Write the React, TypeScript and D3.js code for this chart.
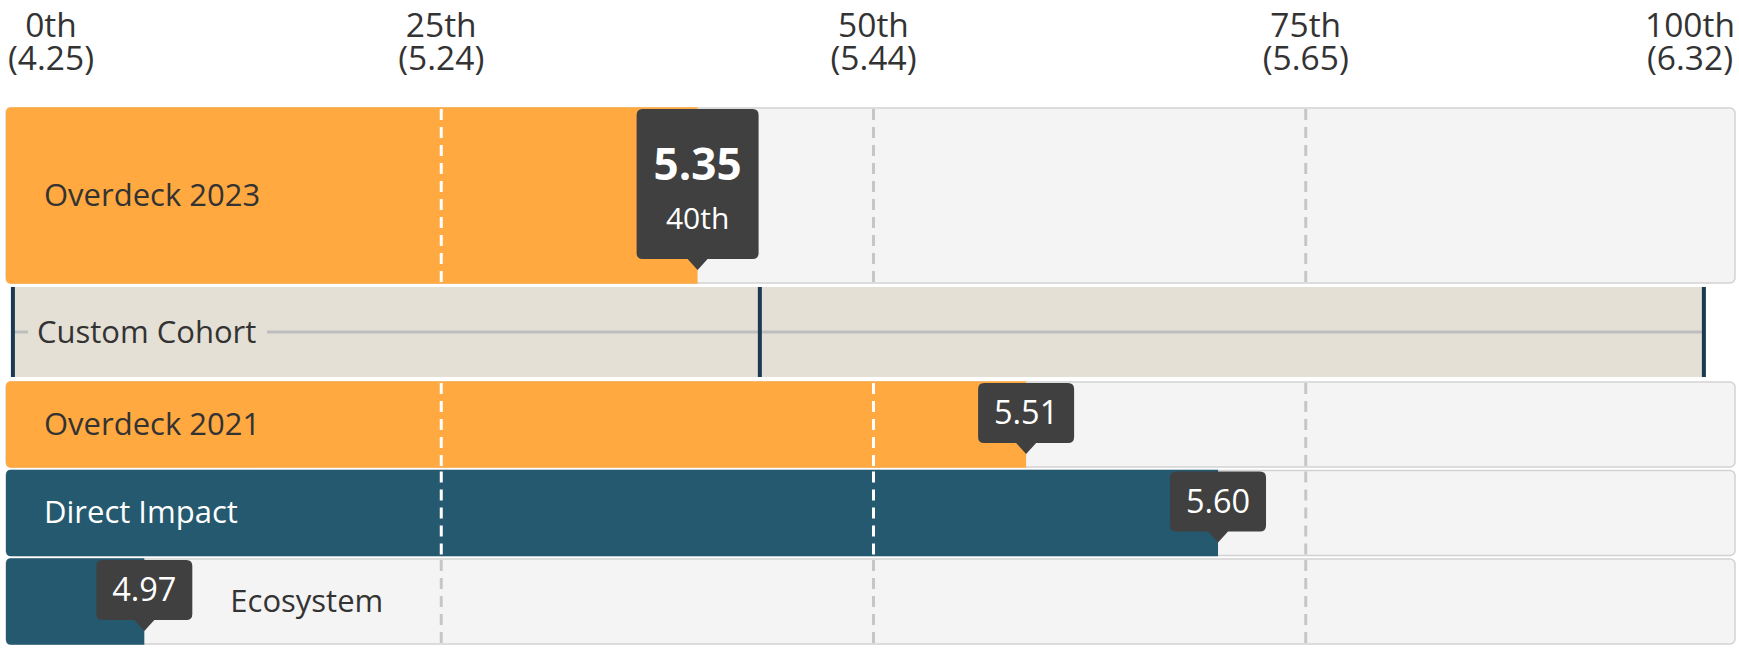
import React from "react";
import * as d3 from "d3";

const tickPercentiles = [0, 25, 50, 75, 100];
const tickLabels = ["0th", "25th", "50th", "75th", "100th"];
const tickValues = ["(4.25)", "(5.24)", "(5.44)", "(5.65)", "(6.32)"];

const rowNames = ["Overdeck 2023", "Overdeck 2021", "Direct Impact", "Ecosystem"];
const rowValues = ["5.35", "5.51", "5.60", "4.97"];
const rowPercentiles = [40, 59, 70.1, 8];
const rowPercentileLabels = ["40th", "", "", ""];
const rowColors = ["#FFA940", "#FFA940", "#25596F", "#25596F"];
const rowTextColors = ["#333333", "#333333", "#ffffff", "#333333"];

const cohortName = "Custom Cohort";
const cohortPercentiles = [0.4, 43.6, 98.2]; // min, median, max

const W = 1739;
const H = 648;
const FONT = "'Open Sans', sans-serif";

export default function App() {
  const x = d3.scaleLinear().domain([0, 100]).range([6, 1735]);
  const gx = (p: number) => x(p) + 3;

  // row layouts: [top, height]
  const rowsLayout = [
    [108, 175],
    [382, 85],
    [470.5, 85],
    [559, 85],
  ];
  const cohortTop = 287;
  const cohortH = 90;

  const barPath = (x0: number, x1: number, y: number, h: number, r: number) =>
    `M${x0 + r},${y}H${x1}V${y + h}H${x0 + r}Q${x0},${y + h} ${x0},${y + h - r}V${y + r}Q${x0},${y} ${x0 + r},${y}Z`;

  const tipPath = (cx: number, top: number, w: number, bh: number, tipY: number) => {
    const l = cx - w / 2;
    const r = cx + w / 2;
    const b = top + bh;
    const rr = 6;
    const aw = 10;
    return `M${l + rr},${top}H${r - rr}Q${r},${top} ${r},${top + rr}V${b - rr}Q${r},${b} ${r - rr},${b}H${cx + aw}L${cx},${tipY}L${cx - aw},${b}H${l + rr}Q${l},${b} ${l},${b - rr}V${top + rr}Q${l},${top} ${l + rr},${top}Z`;
  };

  const grid = [25, 50, 75];

  return (
    <svg
      width={W}
      height={H}
      style={{ position: "absolute", left: 0, top: 0, fontFamily: FONT }}
    >
      <rect x={0} y={0} width={W} height={H} fill="#ffffff" />
      {/* axis labels */}
      {tickPercentiles.map((p, i) => {
        const cx = Math.max(51, Math.min(1690, gx(p)));
        return (
          <g key={"t" + i} fill="#333333" fontSize={33.5} textAnchor="middle">
            <text x={cx} y={37}>{tickLabels[i]}</text>
            <text x={cx} y={70}>{tickValues[i]}</text>
          </g>
        );
      })}

      {/* cohort row */}
      {(() => {
        const [mn, md, mx] = cohortPercentiles.map(x);
        const cy = cohortTop + cohortH / 2;
        return (
          <g>
            <rect x={mn} y={cohortTop} width={mx - mn} height={cohortH} fill="#E4E0D5" />
            <line x1={mn} x2={mx} y1={cy} y2={cy} stroke="#BDBDBD" strokeWidth={3} />
            <rect x={28} y={cy - 20} width={239} height={40} fill="#E4E0D5" />
            <text x={37} y={cy + 11} fontSize={31} fill="#333333">{cohortName}</text>
            {[mn, md, mx].map((cx, i) => (
              <rect key={i} x={cx - 2} y={cohortTop} width={4} height={cohortH} fill="#1B3A52" />
            ))}
          </g>
        );
      })()}

      {/* data rows */}
      {rowNames.map((name, i) => {
        const [top, h] = rowsLayout[i];
        const end = x(rowPercentiles[i]);
        const big = i === 0;
        const tw = big ? 122 : 96;
        const bh = h - 25;
        const tipY = top + h - 13;
        const labelX = rowPercentiles[i] < 15 ? end + 86 : 44;
        return (
          <g key={"r" + i}>
            <rect x={6} y={top} width={1729} height={h} rx={5} fill="#F4F4F4" stroke="#D2D2D2" strokeWidth={1.5} />
            <path d={barPath(6, end, top - 0.75, h + 1.5, 5)} fill={rowColors[i]} />
            {grid.map((p) => {
              const g = gx(p);
              const inside = g <= end;
              return (
                <line
                  key={p}
                  x1={g}
                  x2={g}
                  y1={top + 1}
                  y2={top + h}
                  stroke={inside ? "#ffffff" : "#C6C6C6"}
                  strokeWidth={3}
                  strokeDasharray="11,7"
                />
              );
            })}
            <text x={labelX} y={top + h / 2 + 10} fontSize={31} fill={rowTextColors[i]}>{name}</text>
            <path d={tipPath(end, top + 1, tw, bh, tipY)} fill="#404040" />
            {big ? (
              <g fill="#ffffff" textAnchor="middle">
                <text x={end} y={top + 72} fontSize={44} fontWeight={700}>{rowValues[i]}</text>
                <text x={end} y={top + 121} fontSize={30}>{rowPercentileLabels[i]}</text>
              </g>
            ) : (
              <text x={end} y={top + 1 + bh / 2 + 11} fontSize={32.5} fill="#ffffff" textAnchor="middle">{rowValues[i]}</text>
            )}
          </g>
        );
      })}
    </svg>
  );
}
